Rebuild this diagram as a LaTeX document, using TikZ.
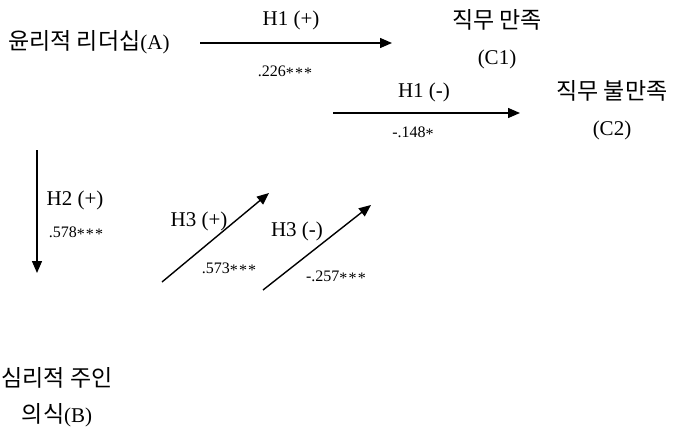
\documentclass[tikz,border=0pt]{standalone}
\usepackage{fontspec}
\setmainfont{Liberation Serif}
\newfontfamily\kr{Noto Sans CJK KR}[WordSpace=1.0]
\usetikzlibrary{arrows.meta}
\newcommand\kor[1]{{\kr\fontsize{23}{36}\selectfont #1}}
\newcommand\st{\raisebox{-2pt}{*}\hspace{1.2pt}}

\begin{document}
\begin{tikzpicture}[
    x=1pt,y=-1pt,
    concept/.style={align=center,inner sep=0pt,font=\fontsize{21}{36}\selectfont},
    hyp/.style={inner sep=0pt,font=\fontsize{21}{21}\selectfont},
    coef/.style={inner sep=0pt,font=\fontsize{16}{16}\selectfont},
    arrow/.style={-{Triangle[length=12pt,width=10pt]},line width=1.4pt}
  ]
  \useasboundingbox (0,0) rectangle (673,431);
  % variables
  \node[concept] (lead) at (89,42) {\kor{윤리적 리더십}(A)};
  \node[concept] (sat) at (497,39) {\kor{직무 만족}\\(C1)};
  \node[concept] (dis) at (612,110) {\kor{직무 불만족}\\(C2)};
  \node[concept] (own) at (57,397) {\kor{심리적 주인}\\\kor{의식}(B)};
  % arrow ends
  \coordinate (h1p-s) at (200,43);
  \coordinate (h1p-e) at (392,43);
  \coordinate (h1n-s) at (333,113);
  \coordinate (h1n-e) at (520,113);
  \coordinate (h2-s) at (37,150);
  \coordinate (h2-e) at (37,273);
  \coordinate (h3p-s) at (162,282);
  \coordinate (h3p-e) at (269,193);
  \coordinate (h3n-s) at (263,290);
  \coordinate (h3n-e) at (371,205);
  \draw[arrow] (h1p-s) -- (h1p-e);
  \draw[arrow] (h1n-s) -- (h1n-e);
  \draw[arrow] (h2-s) -- (h2-e);
  \draw[arrow] (h3p-s) -- (h3p-e);
  \draw[arrow] (h3n-s) -- (h3n-e);
  % labels
  \node[hyp] (h1p) at (291,20) {H1 (+)};
  \node[coef] (h1p-c) at (285,72) {.226\st\st\st};
  \node[hyp] (h1n) at (424,92) {H1 (-)};
  \node[coef] (h1n-c) at (413,133) {-.148\st};
  \node[hyp] (h2) at (75,200) {H2 (+)};
  \node[coef] (h2-c) at (76,233) {.578\st\st\st};
  \node[hyp] (h3p) at (199,221) {H3 (+)};
  \node[coef] (h3p-c) at (229,269) {.573\st\st\st};
  \node[hyp] (h3n) at (297,231) {H3 (-)};
  \node[coef] (h3n-c) at (336,277) {-.257\st\st\st};
\end{tikzpicture}
\end{document}
